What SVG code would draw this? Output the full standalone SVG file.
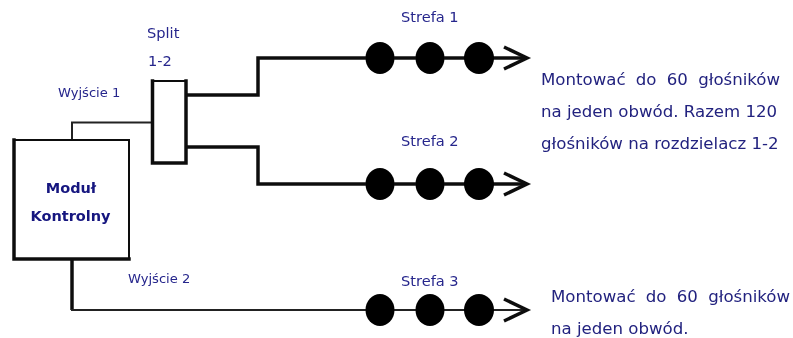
<svg xmlns="http://www.w3.org/2000/svg" width="793" height="338" viewBox="0 0 793 338">
<style>
.t{font-family:"DejaVu Sans",Verdana,sans-serif;font-size:14.600px;fill:#26268c}
.s{font-size:13.100px}
.b{font-weight:bold;font-size:14.500px;fill:#14147f;text-anchor:middle}
.w{font-size:16.600px;fill:#22227f}
.l{fill:none;stroke:#111;stroke-width:3.500}
.n{fill:none;stroke:#222;stroke-width:2}
.box{fill:#fff;stroke:#111;stroke-width:2}
.e{fill:none;stroke:#111;stroke-width:3.500;stroke-linecap:square}
.d{fill:#000}
</style>
<defs>
<g id="zone">
<ellipse class="d" cx="380" cy="0" rx="14.500" ry="16"/>
<ellipse class="d" cx="430" cy="0" rx="14.500" ry="16"/>
<ellipse class="d" cx="479" cy="0" rx="15" ry="16"/>
<path class="l" d="M504 -11 L527 0 L504 11"/>
</g>
<filter id="soft" filterUnits="userSpaceOnUse" x="0" y="0" width="793" height="338"><feGaussianBlur stdDeviation="0.350"/></filter>
</defs>
<rect width="793" height="338" fill="#fff"/>
<g filter="url(#soft)">
<g id="connectors">
<path class="n" d="M72 140 V122.500 H152"/>
<path class="l" d="M186 95 H258 V58 H526"/>
<path class="l" d="M186 147 H258 V184 H526"/>
<path class="l" d="M72 259 V310"/>
<path class="n" d="M71 310 H526"/>
</g>
<g id="modul">
<rect class="box" x="14" y="140" width="115" height="119"/>
<path class="e" d="M14 140 V259 H129"/>
<text class="t b" x="71" y="193">Moduł</text>
<text class="t b" x="70.500" y="221">Kontrolny</text>
</g>
<g id="split">
<rect class="box" x="152.500" y="81" width="33.500" height="82"/>
<path class="e" d="M152.500 81 V163 H186 V81"/>
<text class="t" x="147" y="38">Split</text>
<text class="t" x="148" y="66">1-2</text>
</g>
<g id="wyjscie1"><text class="t s" x="58" y="97">Wyjście 1</text></g>
<g id="wyjscie2"><text class="t s" x="128" y="283">Wyjście 2</text></g>
<g id="strefa1"><use href="#zone" y="58"/><text class="t" x="401" y="22">Strefa 1</text></g>
<g id="strefa2"><use href="#zone" y="184"/><text class="t" x="401" y="146">Strefa 2</text></g>
<g id="strefa3"><use href="#zone" y="310"/><text class="t" x="401" y="286">Strefa 3</text></g>
<g id="note1">
<text class="t w" x="541" y="85" word-spacing="5">Montować do 60 głośników</text>
<text class="t w" x="541" y="117">na jeden obwód. Razem 120</text>
<text class="t w" x="541" y="149">głośników na rozdzielacz 1-2</text>
</g>
<g id="note2">
<text class="t w" x="551" y="302" word-spacing="5">Montować do 60 głośników</text>
<text class="t w" x="551" y="334">na jeden obwód.</text>
</g>
</g>
</svg>
